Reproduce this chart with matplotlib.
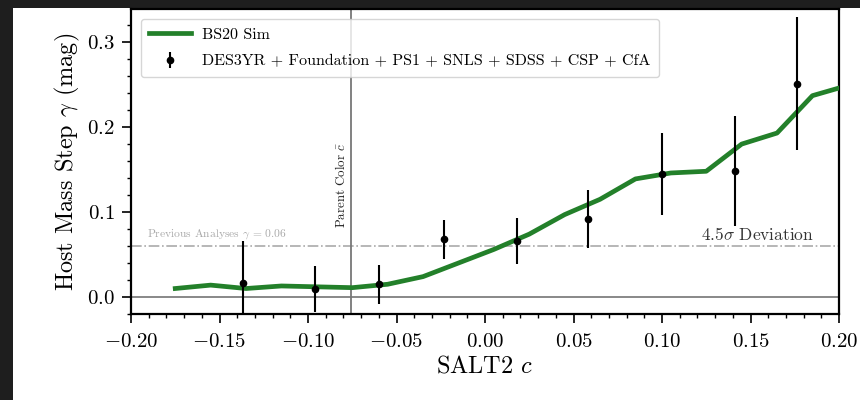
import numpy as np
import matplotlib
matplotlib.use("Agg")
import matplotlib.pyplot as plt
from matplotlib.patches import Rectangle
from matplotlib.ticker import MultipleLocator

plt.rcParams['font.family'] = 'serif'
plt.rcParams['font.serif'] = ['cmr10']
plt.rcParams['mathtext.fontset'] = 'cm'
plt.rcParams['axes.formatter.use_mathtext'] = True

# BS20 simulation, binned in SALT2 colour
sim_c = [-0.175, -0.155, -0.135, -0.115, -0.095, -0.075, -0.055, -0.035, -0.015, 0.005,
         0.025, 0.045, 0.065, 0.085, 0.105, 0.125, 0.145, 0.165, 0.185, 0.205]
sim_gamma = [0.010, 0.014, 0.010, 0.013, 0.012, 0.011, 0.015, 0.024, 0.040, 0.056,
             0.074, 0.097, 0.115, 0.139, 0.146, 0.148, 0.180, 0.193, 0.237, 0.249]

# measured mass step per colour bin
data_c = [-0.137, -0.096, -0.060, -0.023, 0.018, 0.058, 0.100, 0.141, 0.176]
data_gamma = [0.016, 0.009, 0.015, 0.068, 0.066, 0.092, 0.145, 0.148, 0.251]
data_err = [0.050, 0.027, 0.023, 0.023, 0.027, 0.034, 0.048, 0.065, 0.078]

prev_gamma = 0.06
parent_c = -0.0755

fig = plt.figure(figsize=(8.6, 4.0), dpi=100)
fig.patch.set_facecolor('#1e1e1e')
fig.add_artist(Rectangle((13 / 860, 0), 1 - 13 / 860, 392 / 400,
                         transform=fig.transFigure, facecolor='white',
                         edgecolor='none', zorder=-10))

ax = fig.add_axes([131 / 860, 86 / 400, 708 / 860, 305 / 400])

ax.axhline(0, color='#888888', lw=1.4, zorder=1)
ax.axhline(prev_gamma, color='#aaaaaa', lw=1.2, ls='-.', zorder=1)
ax.axvline(parent_c, color='#777777', lw=1.3, zorder=1)

ax.plot(sim_c, sim_gamma, color='#23802a', lw=3.4, label='BS20 Sim', zorder=3)
ax.errorbar(data_c, data_gamma, yerr=data_err, fmt='o', color='k', ms=4.5,
            elinewidth=1.5, capsize=0, zorder=4,
            label='DES3YR + Foundation + PS1 + SNLS + SDSS + CSP + CfA')

ax.text(-0.191, 0.074, r'Previous Analyses $\gamma$ = 0.06', color='#aaaaaa',
        fontsize=8.3, va='center', ha='left')
ax.text(0.186, 0.063, r'4.5$\sigma$ Deviation', color='#333333',
        fontsize=12.5, va='bottom', ha='right')
ax.text(parent_c - 0.002, 0.081, r'Parent Color $\bar{c}$', rotation=90,
        fontsize=9.3, va='bottom', ha='right', color='#222222')

ax.set_xlim(-0.2, 0.2)
ax.set_ylim(-0.02, 0.339)
ax.xaxis.set_major_locator(MultipleLocator(0.05))
ax.xaxis.set_minor_locator(MultipleLocator(0.01))
ax.yaxis.set_major_locator(MultipleLocator(0.1))
ax.yaxis.set_minor_locator(MultipleLocator(0.02))
ax.tick_params(which='major', length=6.5, width=1.2, labelsize=15)
ax.tick_params(which='minor', length=3, width=1.0)
ax.tick_params(axis='x', which='major', pad=7)
ax.tick_params(axis='y', which='major', pad=5)
for sp in ax.spines.values():
    sp.set_linewidth(1.6)

ax.set_xlabel(r'SALT2 $c$', fontsize=17.5, labelpad=3)
ax.set_ylabel(r'Host Mass Step $\gamma$ (mag)', fontsize=17.5)

ax.legend(loc='upper left', fontsize=11.5, handlelength=2.6, handletextpad=0.7,
          borderaxespad=0.6, labelspacing=0.8, borderpad=0.55)

fig.savefig('out.png', dpi=100, facecolor=fig.get_facecolor())
